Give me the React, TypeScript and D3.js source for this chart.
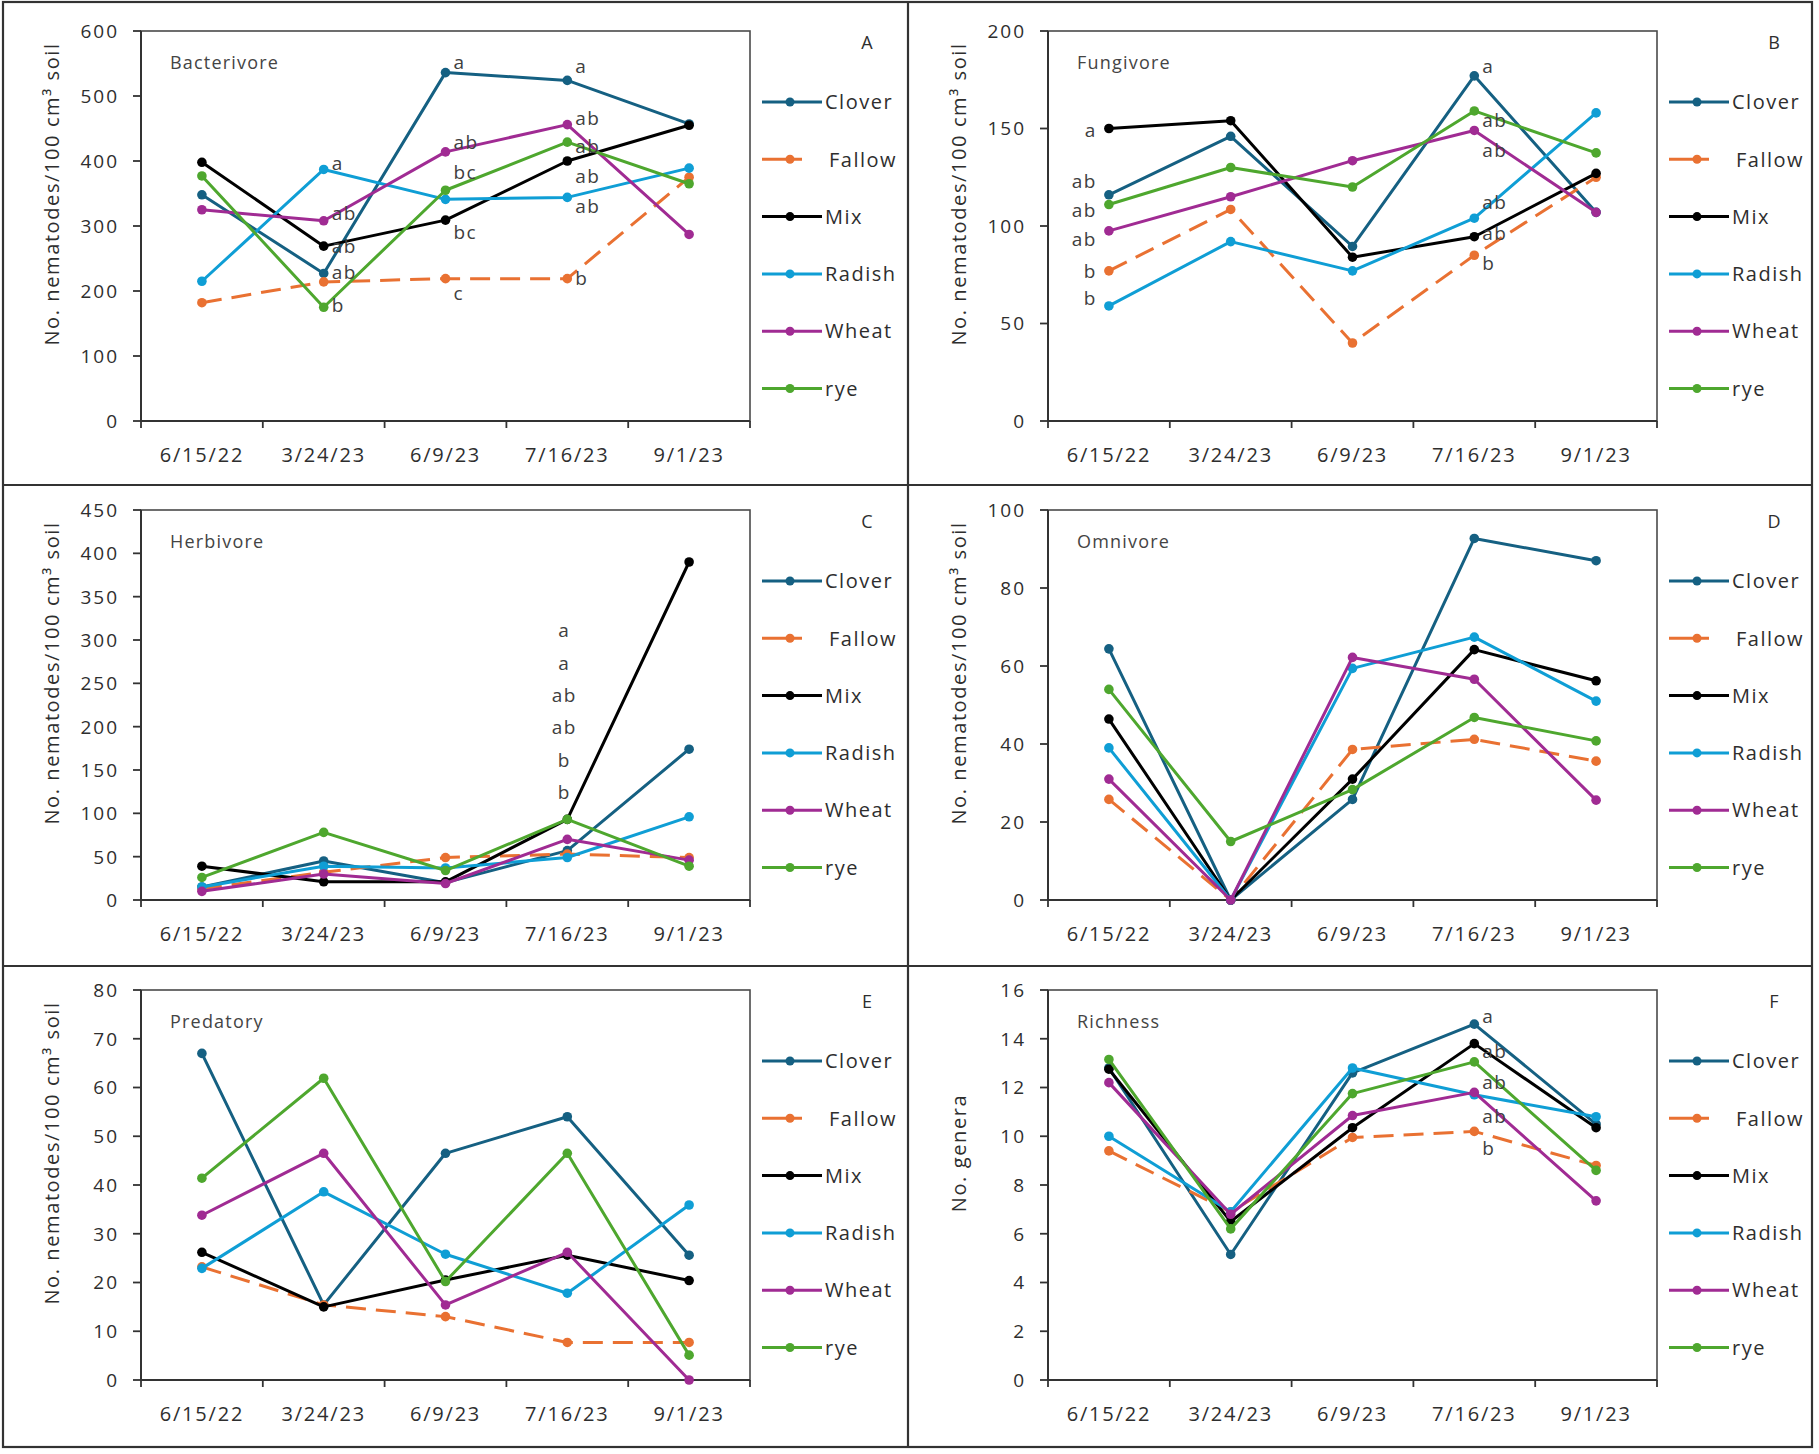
import * as d3 from "d3";

const dates = ["6/15/22", "3/24/23", "6/9/23", "7/16/23", "9/1/23"];
const treatments = ["Clover", "Fallow", "Mix", "Radish", "Wheat", "rye"];
const colors = ["#156082", "#E97132", "#000000", "#0F9ED5", "#A02B93", "#4EA72E"];

// values per treatment, same order as `treatments`
const bacterivore = [
  [348, 227, 536, 524, 457],
  [182, 214, 219, 219, 375],
  [398, 269, 309, 400, 455],
  [215, 387, 341, 344, 389],
  [325, 308, 414, 456, 287],
  [377, 175, 355, 429, 365],
];
const fungivore = [
  [116, 146, 89.5, 177, 107],
  [77, 108.5, 40, 85, 125],
  [150, 154, 84, 94.5, 127],
  [59, 92, 77, 104, 158],
  [97.5, 115, 133.5, 149, 107],
  [111, 130, 120, 159, 137.5],
];
const herbivore = [
  [15, 45, 20, 57, 174],
  [13, 32, 49, 53, 49],
  [39, 21, 21, 93, 390],
  [15, 39, 37, 49, 96],
  [10, 30, 19, 70, 46],
  [26, 78, 34, 93, 39],
];
const omnivore = [
  [64.4, 0, 25.8, 92.7, 87],
  [25.8, 0, 38.6, 41.2, 35.6],
  [46.4, 0, 31, 64.2, 56.2],
  [39, 0, 59.4, 67.4, 51],
  [31, 0, 62.2, 56.6, 25.6],
  [54, 15, 28.3, 46.8, 40.8],
];
const predatory = [
  [67, 15.4, 46.5, 54, 25.6],
  [23.2, 15.4, 13, 7.7, 7.7],
  [26.2, 15, 20.5, 25.6, 20.4],
  [22.9, 38.6, 25.8, 17.8, 35.9],
  [33.8, 46.5, 15.4, 26.2, 0],
  [41.4, 61.9, 20.2, 46.5, 5.1],
];
const richness = [
  [12.8, 5.15, 12.6, 14.6, 10.5],
  [9.4, 6.9, 9.95, 10.2, 8.8],
  [12.75, 6.5, 10.35, 13.8, 10.35],
  [10.0, 6.9, 12.8, 11.7, 10.8],
  [12.2, 6.8, 10.85, 11.8, 7.35],
  [13.15, 6.2, 11.75, 13.05, 8.6],
];

// significance letters: [date index, value where the letter sits, letter]
const lettersA: [number, number, string][] = [
  [1, 397, "a"], [1, 320, "ab"], [1, 268, "ab"], [1, 229, "ab"], [1, 178, "b"],
  [2, 552, "a"], [2, 429, "ab"], [2, 383, "bc"], [2, 291, "bc"], [2, 197, "c"],
  [3, 545, "a"], [3, 466, "ab"], [3, 422, "ab"], [3, 376, "ab"], [3, 330, "ab"], [3, 220, "b"],
];
const lettersB: [number, number, string][] = [
  [0, 149, "a"], [0, 123, "ab"], [0, 108, "ab"], [0, 93, "ab"], [0, 77, "b"], [0, 63, "b"],
  [3, 182, "a"], [3, 154, "ab"], [3, 139, "ab"], [3, 112, "ab"], [3, 96, "ab"], [3, 81, "b"],
];
const lettersC: [number, number, string][] = [
  [3, 311, "a"], [3, 273, "a"], [3, 236, "ab"], [3, 199, "ab"], [3, 161, "b"], [3, 124, "b"],
];
const lettersF: [number, number, string][] = [
  [3, 14.9, "a"], [3, 13.5, "ab"], [3, 12.2, "ab"], [3, 10.8, "ab"], [3, 9.5, "b"],
];

const ticksA = [0, 100, 200, 300, 400, 500, 600];
const ticksB = [0, 50, 100, 150, 200];
const ticksC = [0, 50, 100, 150, 200, 250, 300, 350, 400, 450];
const ticksD = [0, 20, 40, 60, 80, 100];
const ticksE = [0, 10, 20, 30, 40, 50, 60, 70, 80];
const ticksF = [0, 2, 4, 6, 8, 10, 12, 14, 16];

const nemaTitle = "No. nematodes/100 cm³ soil";

const panels = [
  { id: "A", group: "Bacterivore", values: bacterivore, ticks: ticksA, letters: lettersA, title: nemaTitle, center: false },
  { id: "B", group: "Fungivore", values: fungivore, ticks: ticksB, letters: lettersB, title: nemaTitle, center: false },
  { id: "C", group: "Herbivore", values: herbivore, ticks: ticksC, letters: lettersC, title: nemaTitle, center: true },
  { id: "D", group: "Omnivore", values: omnivore, ticks: ticksD, letters: [], title: nemaTitle, center: false },
  { id: "E", group: "Predatory", values: predatory, ticks: ticksE, letters: [], title: nemaTitle, center: false },
  { id: "F", group: "Richness", values: richness, ticks: ticksF, letters: lettersF, title: "No. genera", center: false },
];

const W = 1819;
const H = 1454;
const FONT = "'Open Sans', 'Noto Sans', sans-serif";
const TEXT = "#2e2e2e";
const rowTops = [31, 510, 990];

function Panel({ p, index }: { p: (typeof panels)[number]; index: number }) {
  const col = index % 2;
  const row = Math.floor(index / 2);
  const left = 141 + col * 907;
  const right = left + 609;
  const top = rowTops[row];
  const bottom = top + 390;

  const x = d3.scaleBand<string>().domain(dates).range([left, right]);
  const cx = (d: string) => (x(d) ?? 0) + x.bandwidth() / 2;
  const y = d3
    .scaleLinear()
    .domain([0, p.ticks[p.ticks.length - 1]])
    .range([bottom, top]);

  const line = d3
    .line<number>()
    .x((_, i) => cx(dates[i]))
    .y((v) => y(v));

  const bounds = [...dates.map((d) => x(d) ?? 0), right];

  return (
    <g fontFamily={FONT}>
      {/* plot frame */}
      <rect x={left} y={top} width={right - left} height={bottom - top} fill="none" stroke="#4a4a4a" strokeWidth={1.6} />
      <line x1={left} x2={left} y1={top} y2={bottom} stroke="#333" strokeWidth={2} />
      <line x1={left} x2={right} y1={bottom} y2={bottom} stroke="#333" strokeWidth={2} />

      {/* y ticks */}
      {p.ticks.map((t) => (
        <g key={t}>
          <line x1={left - 8} x2={left} y1={y(t)} y2={y(t)} stroke="#333" strokeWidth={1.8} />
          <text x={left - 22} y={y(t)} dy="0.36em" textAnchor="end" fontSize={19} letterSpacing={2} fill={TEXT}>
            {t}
          </text>
        </g>
      ))}

      {/* x ticks */}
      {bounds.map((b, i) => (
        <line key={i} x1={b} x2={b} y1={bottom} y2={bottom + 7} stroke="#333" strokeWidth={1.8} />
      ))}
      {dates.map((d) => (
        <text key={d} x={cx(d)} y={bottom + 41} textAnchor="middle" fontSize={20} letterSpacing={1.8} fill={TEXT}>
          {d}
        </text>
      ))}

      {/* axis title */}
      <text
        transform={`translate(${left - 89},${top + 163}) rotate(-90)`}
        textAnchor="middle"
        dy="0.35em"
        fontSize={20}
        letterSpacing={1.6}
        fill={TEXT}
      >
        {p.title}
      </text>

      <text x={left + 29} y={top + 38} fontSize={18} letterSpacing={1.2} fill="#444">
        {p.group}
      </text>
      <text x={left + 726} y={top + 18} textAnchor="middle" fontSize={18} fill={TEXT}>
        {p.id}
      </text>

      {/* series */}
      {p.values.map((vals, s) => (
        <g key={treatments[s]}>
          <path
            d={line(vals) ?? ""}
            fill="none"
            stroke={colors[s]}
            strokeWidth={3}
            strokeDasharray={treatments[s] === "Fallow" ? "20,10" : undefined}
            strokeLinejoin="round"
          />
          {vals.map((v, i) => (
            <circle key={i} cx={cx(dates[i])} cy={y(v)} r={4.8} fill={colors[s]} />
          ))}
        </g>
      ))}

      {/* significance letters */}
      {p.letters.map(([di, v, t], k) => {
        const px = cx(dates[di]);
        const anchor = p.center ? "middle" : di === 0 ? "end" : "start";
        const lx = p.center ? px - 3 : di === 0 ? px - 12 : px + 8;
        return (
          <text key={k} x={lx} y={y(v)} dy="0.35em" textAnchor={anchor} fontSize={19} letterSpacing={1.5} fill="#404040">
            {t}
          </text>
        );
      })}

      {/* legend */}
      {treatments.map((t, s) => {
        const ly = top + 71 + s * 57.3;
        return (
          <g key={t}>
            <line
              x1={right + 12}
              x2={t === "Fallow" ? right + 52 : right + 72}
              y1={ly}
              y2={ly}
              stroke={colors[s]}
              strokeWidth={3}
            />
            <circle cx={right + 40} cy={ly} r={4.5} fill={colors[s]} />
            <text
              x={t === "Fallow" ? right + 79 : right + 75}
              y={ly}
              dy="0.36em"
              fontSize={20}
              letterSpacing={1.5}
              fill={TEXT}
            >
              {t}
            </text>
          </g>
        );
      })}
    </g>
  );
}

export default function App() {
  return (
    <>
      <style>{`body{margin:0;background:#fff}`}</style>
      <svg width={W} height={H} style={{ display: "block", background: "#fff" }}>
        {/* panel frames */}
        <rect x={3} y={2} width={1809} height={1445} fill="none" stroke="#333" strokeWidth={2.2} />
        <line x1={908} x2={908} y1={2} y2={1447} stroke="#333" strokeWidth={2.2} />
        <line x1={3} x2={1812} y1={485} y2={485} stroke="#333" strokeWidth={2.2} />
        <line x1={3} x2={1812} y1={966} y2={966} stroke="#333" strokeWidth={2.2} />
        {panels.map((p, i) => (
          <Panel key={p.id} p={p} index={i} />
        ))}
      </svg>
    </>
  );
}
